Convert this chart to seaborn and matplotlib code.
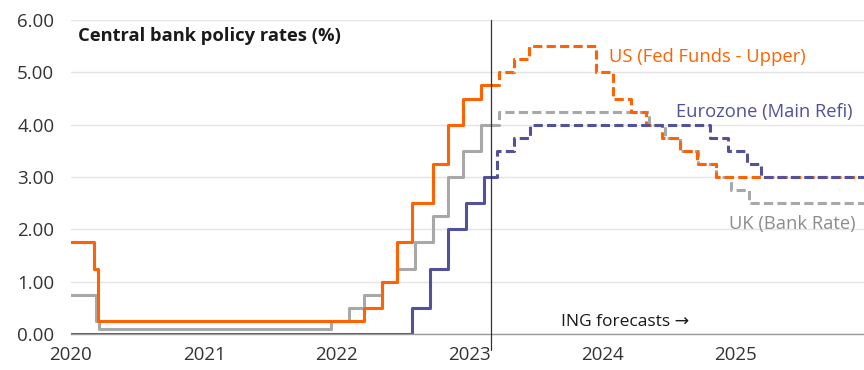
import pandas as pd
import seaborn as sns
import matplotlib.pyplot as plt

# Policy rate decisions (step changes), actual up to Mar 2023 then ING forecasts
us_dates = ["2020-01-01", "2020-03-03", "2020-03-15", "2022-03-16", "2022-05-04", "2022-06-15",
            "2022-07-27", "2022-09-21", "2022-11-02", "2022-12-14", "2023-02-01", "2023-03-01"]
us_rates = [1.75, 1.25, 0.25, 0.5, 1.0, 1.75, 2.5, 3.25, 4.0, 4.5, 4.75, 4.75]
us_fc_dates = ["2023-03-01", "2023-03-22", "2023-05-03", "2023-06-14", "2023-12-13", "2024-01-31",
               "2024-03-20", "2024-05-01", "2024-06-12", "2024-07-31", "2024-09-18", "2024-11-07",
               "2025-12-31"]
us_fc_rates = [4.75, 5.0, 5.25, 5.5, 5.0, 4.5, 4.25, 4.0, 3.75, 3.5, 3.25, 3.0, 3.0]

ez_dates = ["2020-01-01", "2022-07-27", "2022-09-14", "2022-11-02", "2022-12-21", "2023-02-08",
            "2023-03-01"]
ez_rates = [0.0, 0.5, 1.25, 2.0, 2.5, 3.0, 3.0]
ez_fc_dates = ["2023-03-01", "2023-03-16", "2023-05-04", "2023-06-15", "2024-10-24", "2024-12-12",
               "2025-02-02", "2025-03-13", "2025-12-31"]
ez_fc_rates = [3.0, 3.5, 3.75, 4.0, 3.75, 3.5, 3.25, 3.0, 3.0]

uk_dates = ["2020-01-01", "2020-03-11", "2020-03-19", "2021-12-16", "2022-02-03", "2022-03-17",
            "2022-05-05", "2022-06-16", "2022-08-04", "2022-09-22", "2022-11-03", "2022-12-15",
            "2023-02-02", "2023-03-01"]
uk_rates = [0.75, 0.25, 0.1, 0.25, 0.5, 0.75, 1.0, 1.25, 1.75, 2.25, 3.0, 3.5, 4.0, 4.0]
uk_fc_dates = ["2023-03-01", "2023-03-23", "2024-05-09", "2024-06-20", "2024-08-01", "2024-09-19",
               "2024-11-07", "2024-12-19", "2025-02-06", "2025-12-31"]
uk_fc_rates = [4.0, 4.25, 4.0, 3.75, 3.5, 3.25, 3.0, 2.75, 2.5, 2.5]

years = ["2020", "2021", "2022", "2023", "2024", "2025"]
forecast_start = "2023-03-01"

ORANGE = "#ff6200"
PURPLE = "#525199"
GREY = "#a8a8a8"

sns.set_theme(style="white")
plt.rcParams["font.family"] = ["Open Sans", "DejaVu Sans"]

fig = plt.figure(figsize=(8.64, 3.70), dpi=100)
ax = fig.add_axes([71 / 864, 1 - 334 / 370, 1 - 71 / 864, 314 / 370])

dash = (0, (3, 1.4))
series = [
    (uk_dates, uk_rates, uk_fc_dates, uk_fc_rates, GREY),
    (us_dates, us_rates, us_fc_dates, us_fc_rates, ORANGE),
    (ez_dates, ez_rates, ez_fc_dates, ez_fc_rates, PURPLE),
]
for d, r, fd, fr, col in series:
    sns.lineplot(x=pd.to_datetime(d), y=r, ax=ax, color=col, lw=2.2,
                 drawstyle="steps-post")
    sns.lineplot(x=pd.to_datetime(fd), y=fr, ax=ax, color=col, lw=2.2,
                 drawstyle="steps-post", linestyle=dash)

ax.axvline(pd.Timestamp(forecast_start), ymin=-0.05, ymax=1.0, color="#333333",
           lw=0.9, clip_on=False, zorder=5)

ax.set_xlim(pd.Timestamp("2020-01-01"), pd.Timestamp("2025-12-20"))
ax.set_ylim(0, 6)
ax.set_yticks([0, 1, 2, 3, 4, 5, 6])
ax.set_yticklabels([f"{v:.2f}" for v in range(7)])
ax.set_xticks(pd.to_datetime([y + "-01-01" for y in years]))
ax.set_xticklabels(years)
ax.yaxis.grid(True, color="#e4e4e4", lw=1)
ax.xaxis.grid(False)
for s in ["top", "right", "left"]:
    ax.spines[s].set_visible(False)
ax.spines["bottom"].set_color("#9a9a9a")
ax.spines["bottom"].set_linewidth(1)
ax.tick_params(axis="y", length=0, pad=12, labelsize=13.5, labelcolor="#333333")
ax.tick_params(axis="x", length=5, width=0.8, color="#9a9a9a", direction="out",
               pad=4, labelsize=13.5, labelcolor="#333333")
ax.set_xlabel("")
ax.set_ylabel("")

fig.text(78 / 864, 1 - 36 / 370, "Central bank policy rates (%)", fontsize=13.2,
         fontweight="bold", color="#1a1a1a", va="center", ha="left")

ax.text(pd.Timestamp("2024-01-18"), 5.30, "US (Fed Funds - Upper)", color=ORANGE,
        fontsize=13.2, va="center", ha="left")
ax.text(pd.Timestamp("2024-07-20"), 4.24, "Eurozone (Main Refi)", color=PURPLE,
        fontsize=13.2, va="center", ha="left")
ax.text(pd.Timestamp("2024-12-14"), 2.10, "UK (Bank Rate)", color="#8c8c8c",
        fontsize=13.2, va="center", ha="left")
ax.text(pd.Timestamp("2023-09-08"), 0.23, "ING forecasts \u2192", color="#1a1a1a",
        fontsize=12.5, va="center", ha="left")

plt.savefig("out.png", dpi=100)
